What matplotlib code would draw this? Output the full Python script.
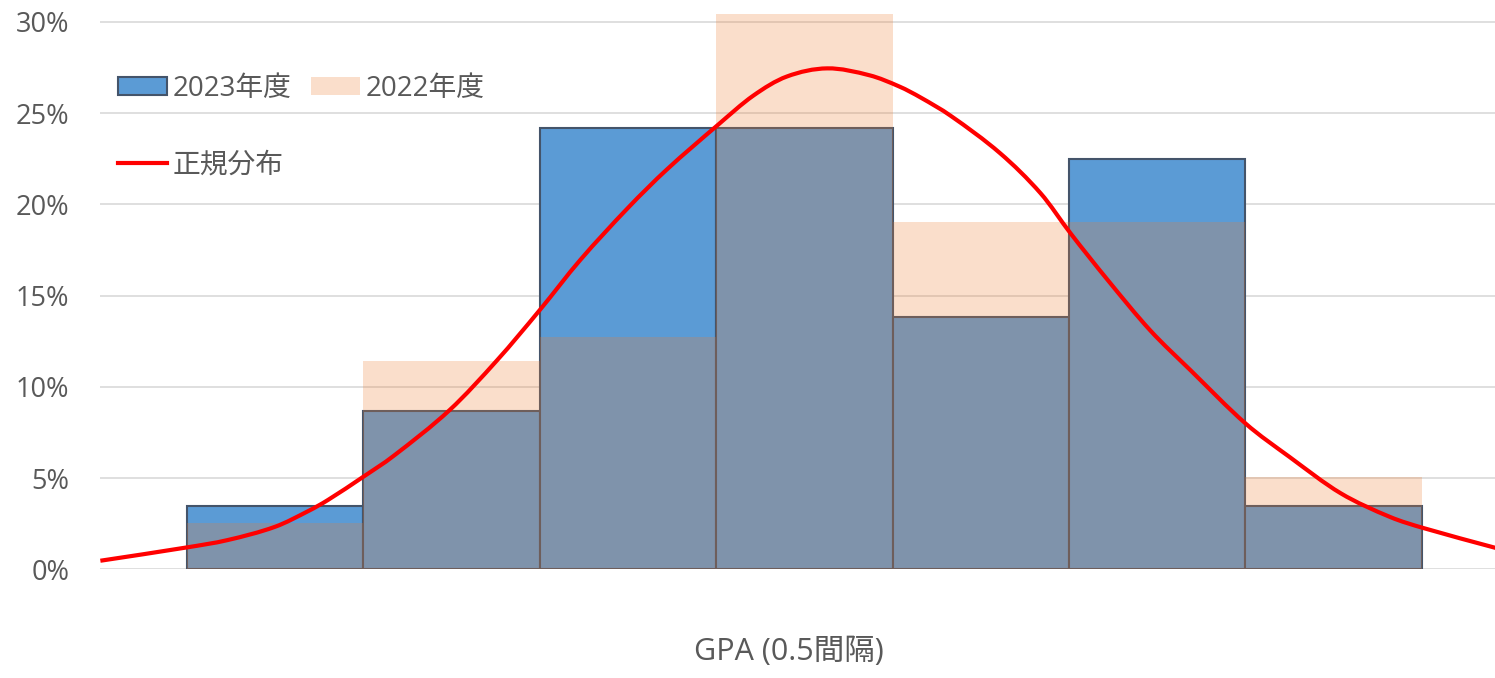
import numpy as np
import matplotlib
matplotlib.use("Agg")
import matplotlib.pyplot as plt
from matplotlib.lines import Line2D
from matplotlib.patches import Patch, PathPatch
from matplotlib.path import Path

plt.rcParams['font.family'] = ['Open Sans', 'Noto Sans CJK JP', 'DejaVu Sans']

# GPA bins (0.5 step), share of students per bin
bins = np.arange(7)
share_2023 = [3.46, 8.67, 24.19, 24.19, 13.82, 22.49, 3.46]
share_2022 = [2.52, 11.41, 12.73, 30.44, 19.03, 19.03, 5.05]

# normal curve, x in bin units
norm_x = [-0.99, -0.50, -0.27, 0.00, 0.19, 0.30, 0.50, 0.67, 0.99, 1.26, 1.50,
          1.73, 2.00, 2.22, 2.51, 2.71, 2.90, 3.13, 3.37, 3.54, 3.66, 3.83,
          4.11, 4.34, 4.51, 4.72, 4.96, 5.19, 5.50, 5.75, 6.04, 6.32, 6.51, 6.92]
norm_y = [0.47, 1.20, 1.60, 2.33, 3.20, 3.80, 5.07, 6.20, 8.73, 11.47, 14.20,
          16.95, 19.80, 21.90, 24.35, 25.95, 27.00, 27.45, 27.07, 26.45, 25.85, 24.85,
          22.80, 20.60, 18.40, 15.85, 13.10, 10.90, 8.00, 6.16, 4.17, 2.87, 2.26, 1.17]

blue = '#5B9BD5'
orange = '#ED7D31'
text_col = '#595959'


def smooth_path(xs, ys):
    # smoothed line through the points: cubic Hermite segments in x
    x = np.asarray(xs, float)
    y = np.asarray(ys, float)
    n = len(x)
    m = np.empty(n)
    m[0] = (y[1] - y[0]) / (x[1] - x[0])
    m[-1] = (y[-1] - y[-2]) / (x[-1] - x[-2])
    m[1:-1] = (y[2:] - y[:-2]) / (x[2:] - x[:-2])
    verts = [(x[0], y[0])]
    codes = [Path.MOVETO]
    for i in range(n - 1):
        h = (x[i + 1] - x[i]) / 3
        verts += [(x[i] + h, y[i] + h * m[i]),
                  (x[i + 1] - h, y[i + 1] - h * m[i + 1]),
                  (x[i + 1], y[i + 1])]
        codes += [Path.CURVE4] * 3
    return Path(verts, codes)


fig = plt.figure(figsize=(14.95, 6.78), dpi=100)
ax = fig.add_axes([0.0669, 0.1603, 0.9331, 0.8344])

ax.bar(bins, np.array(share_2023) / 100, width=1.0, color=blue,
       edgecolor='#44546A', linewidth=1.5, zorder=2)
ax.bar(bins, np.array(share_2022) / 100, width=1.0, color=orange, alpha=0.25,
       linewidth=0, zorder=3)
curve = PathPatch(smooth_path(norm_x, np.array(norm_y) / 100), facecolor='none',
                  edgecolor='#FF0000', lw=3, zorder=4, capstyle='butt')
ax.add_patch(curve)

ax.set_xlim(-0.992, 6.915)
ax.set_ylim(0, 0.31)
ax.set_yticks(np.arange(0, 0.301, 0.05))
ax.set_yticklabels(['%d%%' % v for v in range(0, 31, 5)])
ax.set_xticks([])
ax.yaxis.grid(True, color='#D9D9D9', lw=1.2, zorder=0)
ax.set_axisbelow(True)
for s in ax.spines.values():
    s.set_visible(False)
ax.tick_params(axis='y', length=0, pad=22, labelsize=19.5, labelcolor=text_col)
ax.set_xlabel('GPA (0.5間隔)', fontsize=22, color=text_col, labelpad=49)
ax.xaxis.label.set_x(0.494)

handles = [Patch(facecolor=blue, edgecolor='#44546A', linewidth=1.5),
           Line2D([], [], color='#FF0000', lw=3),
           Patch(facecolor=orange, alpha=0.25, linewidth=0),
           Line2D([], [], color='none')]
labels = ['2023年度', '正規分布', '2022年度', '']
ax.legend(handles, labels, ncol=2, loc='upper left', bbox_to_anchor=(0.0129, 0.874),
          frameon=False, fontsize=20, labelcolor=text_col, borderpad=0, borderaxespad=0,
          handlelength=1.76, handleheight=0.58, handletextpad=0.2, columnspacing=0.7,
          labelspacing=1.75)

fig.savefig('out.png', dpi=100)
